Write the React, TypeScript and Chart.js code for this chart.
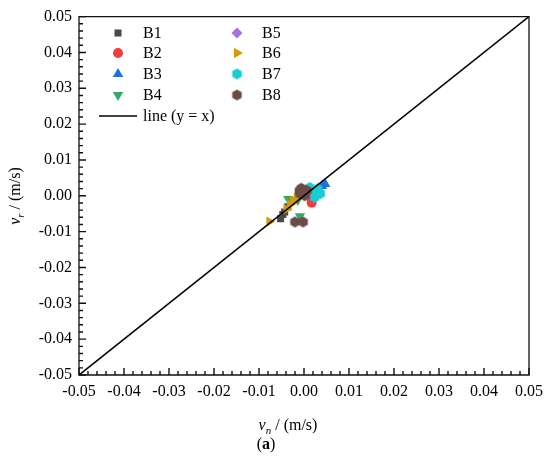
import React, { useEffect, useRef } from "react";
import { Chart, registerables } from "chart.js";

Chart.register(...registerables);

type P = { x: number; y: number };

const seriesNames = ["B1", "B2", "B3", "B4", "B5", "B6", "B7", "B8"];
const seriesColors = ["#4a4a4a", "#f03c3c", "#1f6fdc", "#35a86a", "#a772dc", "#d39a0c", "#18cdd2", "#6e4a47"];

const B1: P[] = [
  { x: -0.0052, y: -0.0064 }, { x: -0.0047, y: -0.0052 }, { x: -0.0043, y: -0.0045 }, { x: -0.0036, y: -0.0031 },
];
const B2: P[] = [
  { x: 0.0017, y: -0.0019 }, { x: 0.0008, y: 0.0004 },
];
const B3: P[] = [
  { x: 0.0047, y: 0.0033 }, { x: 0.004, y: 0.0027 }, { x: 0.0033, y: 0.0019 },
];
const B4: P[] = [
  { x: -0.0035, y: -0.0009 }, { x: -0.0009, y: -0.0057 }, { x: -0.0014, y: -0.0012 },
];
const B5: P[] = [
  { x: 0.0004, y: 0.0009 }, { x: 0.001, y: 0.0014 },
];
const B6: P[] = [
  { x: -0.0077, y: -0.0072 }, { x: -0.0039, y: -0.0037 }, { x: -0.0031, y: -0.0024 },
  { x: -0.0024, y: -0.0014 }, { x: -0.0016, y: -0.0006 },
];
const B7: P[] = [
  { x: 0.0013, y: 0.0023 }, { x: 0.0028, y: 0.001 }, { x: 0.0036, y: 0.0006 }, { x: 0.0024, y: -0.0004 }, { x: 0.003, y: 0.0019 },
];
const B8: P[] = [
  { x: -0.002, y: -0.0073 }, { x: -0.0002, y: -0.0073 }, { x: -0.0006, y: 0.0021 }, { x: 0.0006, y: 0.0015 },
  { x: -0.0009, y: 0.0006 }, { x: 0.0002, y: 0.0 }, { x: -0.001, y: 0.0014 },
];
const seriesData = [B1, B2, B3, B4, B5, B6, B7, B8];
const lineData: P[] = [{ x: -0.05, y: -0.05 }, { x: 0.05, y: 0.05 }];
const lineLabel = "line (y = x)";

const axisMin = -0.05;
const axisMax = 0.05;
const majorStep = 0.01;
const minorStep = 0.002;

const FONT = "'Liberation Serif', 'Times New Roman', serif";

function makeHex(color: string, r: number): HTMLCanvasElement {
  const c = document.createElement("canvas");
  const s = Math.ceil(r * 2 + 2);
  c.width = s;
  c.height = s;
  const g = c.getContext("2d")!;
  g.fillStyle = color;
  g.beginPath();
  for (let i = 0; i < 6; i++) {
    const a = Math.PI / 6 + (i * Math.PI) / 3;
    const px = s / 2 + r * Math.cos(a);
    const py = s / 2 + r * Math.sin(a);
    if (i === 0) g.moveTo(px, py);
    else g.lineTo(px, py);
  }
  g.closePath();
  g.fill();
  return c;
}

export default function App() {
  const ref = useRef<HTMLCanvasElement | null>(null);

  useEffect(() => {
    if (!ref.current) return;
    const hex7 = makeHex(seriesColors[6], 5.5);
    const hex8 = makeHex(seriesColors[7], 5.5);
    const styles: any[] = ["rect", "circle", "triangle", "triangle", "rectRot", "triangle", hex7, hex8];
    const rotations = [0, 0, 0, 180, 0, 90, 0, 0];
    const radii = [5, 5, 6, 6, 5.5, 6, 5.5, 5.5];

    const datasets: any[] = seriesNames.map((name, i) => ({
      type: "scatter",
      label: name,
      data: seriesData[i],
      backgroundColor: seriesColors[i],
      borderColor: seriesColors[i],
      borderWidth: 0,
      pointStyle: styles[i],
      pointRotation: rotations[i],
      pointRadius: radii[i],
      order: 10 - i,
    }));
    datasets.push({
      type: "line",
      label: lineLabel,
      data: lineData,
      borderColor: "#000",
      borderWidth: 1.6,
      pointRadius: 0,
      fill: false,
      order: -1,
    });

    const drawPieces = (
      ctx: CanvasRenderingContext2D,
      pieces: { t: string; font: string; dy: number }[],
      cx: number,
      baseline: number
    ) => {
      let total = 0;
      for (const p of pieces) {
        ctx.font = p.font;
        total += ctx.measureText(p.t).width;
      }
      let x = cx - total / 2;
      ctx.textAlign = "left";
      ctx.textBaseline = "alphabetic";
      for (const p of pieces) {
        ctx.font = p.font;
        ctx.fillText(p.t, x, baseline + p.dy);
        x += ctx.measureText(p.t).width;
      }
    };

    const tickPlugin = {
      id: "innerTicks",
      afterDraw(chart: any) {
        const ctx = chart.ctx;
        const a = chart.chartArea;
        const xs = chart.scales.x;
        const ys = chart.scales.y;
        ctx.save();
        ctx.setLineDash([]);
        ctx.globalAlpha = 1;
        ctx.lineCap = "butt";
        ctx.strokeStyle = "#111";
        ctx.lineWidth = 1.4;
        const n = Math.round((axisMax - axisMin) / minorStep);
        const perMajor = Math.round(majorStep / minorStep);
        for (let i = 0; i <= n; i++) {
          const v = axisMin + i * minorStep;
          const len = i % perMajor === 0 ? 7 : 4;
          const px = xs.getPixelForValue(v);
          const py = ys.getPixelForValue(v);
          ctx.beginPath();
          ctx.moveTo(px, a.bottom);
          ctx.lineTo(px, a.bottom - len);
          ctx.moveTo(a.left, py);
          ctx.lineTo(a.left + len, py);
          ctx.stroke();
        }
        ctx.beginPath();
        ctx.lineWidth = 1.3;
        ctx.rect(a.left, a.top, a.right - a.left, a.bottom - a.top);
        ctx.stroke();
        ctx.restore();
      },
    };

    const deco = {
      id: "deco",
      afterDraw(chart: any) {
        const ctx: CanvasRenderingContext2D = chart.ctx;
        ctx.save();
        ctx.fillStyle = "#000";
        drawPieces(
          ctx,
          [
            { t: "v", font: `italic 16px ${FONT}`, dy: 0 },
            { t: "n", font: `italic 11px ${FONT}`, dy: 4 },
            { t: " / (m/s)", font: `16px ${FONT}`, dy: 0 },
          ],
          288,
          430
        );
        drawPieces(
          ctx,
          [
            { t: "(", font: `16px ${FONT}`, dy: 0 },
            { t: "a", font: `bold 16px ${FONT}`, dy: 0 },
            { t: ")", font: `16px ${FONT}`, dy: 0 },
          ],
          266,
          449
        );
        ctx.save();
        ctx.translate(15, 196);
        ctx.rotate(-Math.PI / 2);
        drawPieces(
          ctx,
          [
            { t: "v", font: `italic 16px ${FONT}`, dy: 0 },
            { t: "r", font: `italic 11px ${FONT}`, dy: 4 },
            { t: " / (m/s)", font: `16px ${FONT}`, dy: 0 },
          ],
          0,
          5
        );
        ctx.restore();

        const rowY = [33, 53, 74, 95];
        const colMarkX = [118, 237];
        const colTextX = [143, 262];
        for (let i = 0; i < seriesNames.length; i++) {
          const col = Math.floor(i / 4);
          const row = i % 4;
          const mx = colMarkX[col];
          const my = rowY[row];
          const meta = chart.getDatasetMeta(i);
          const el = meta.data[0];
          if (el) {
            const ox = el.x;
            const oy = el.y;
            el.x = mx;
            el.y = my;
            el.draw(ctx, undefined);
            el.x = ox;
            el.y = oy;
          }
          ctx.fillStyle = "#000";
          ctx.font = `16px ${FONT}`;
          ctx.textBaseline = "middle";
          ctx.textAlign = "left";
          ctx.fillText(seriesNames[i], colTextX[col], my + 1);
        }
        ctx.strokeStyle = "#000";
        ctx.lineWidth = 1.6;
        ctx.beginPath();
        ctx.moveTo(99, 116);
        ctx.lineTo(137, 116);
        ctx.stroke();
        ctx.fillText(lineLabel, 143, 117);
        ctx.restore();
      },
    };

    const tickCb = (v: any) => {
      const n = Number(v);
      return Math.abs(n) < 1e-9 ? "0.00" : n.toFixed(2);
    };

    const chart = new Chart(ref.current, {
      type: "scatter",
      data: { datasets },
      options: {
        responsive: false,
        animation: false,
        devicePixelRatio: 1,
        layout: { padding: { top: 15, right: 21, left: 0, bottom: 0 } },
        plugins: { legend: { display: false }, tooltip: { enabled: false } },
        scales: {
          x: {
            type: "linear",
            min: axisMin,
            max: axisMax,
            grid: { display: false, drawTicks: false },
            border: { display: false },
            ticks: {
              stepSize: majorStep,
              padding: 7,
              color: "#000",
              font: { family: FONT, size: 16 },
              callback: tickCb,
              maxRotation: 0,
              autoSkip: false,
            },
            afterFit: (s: any) => {
              s.height = 90;
            },
          },
          y: {
            type: "linear",
            min: axisMin,
            max: axisMax,
            grid: { display: false, drawTicks: false },
            border: { display: false },
            ticks: {
              stepSize: majorStep,
              padding: 7,
              color: "#000",
              font: { family: FONT, size: 16 },
              callback: tickCb,
              autoSkip: false,
            },
            afterFit: (s: any) => {
              s.width = 79;
            },
          },
        },
      },
      plugins: [deco, tickPlugin],
    } as any);

    return () => chart.destroy();
  }, []);

  return (
    <div style={{ position: "absolute", left: 0, top: 0, width: 550, height: 465, background: "#fff" }}>
      <canvas ref={ref} width={550} height={465} style={{ width: 550, height: 465, display: "block" }} />
    </div>
  );
}
